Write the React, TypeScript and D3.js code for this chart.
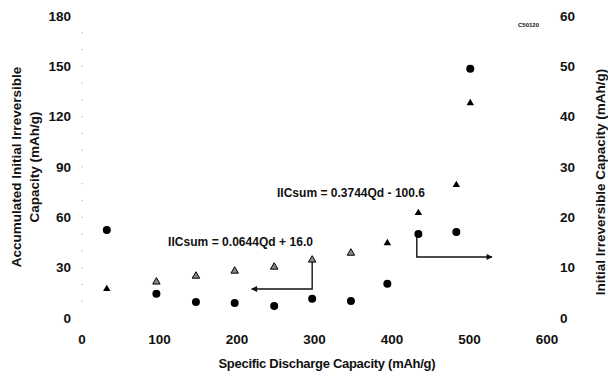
import * as d3 from "d3";
import React, { useEffect, useRef } from "react";

// data
const capacity = [32, 96, 147, 197, 248, 297, 347, 394, 434, 483, 501];
const accumulated = [17.3, 21.5, 25.0, 28.0, 30.4, 34.6, 38.7, 44.7, 62.6, 79.3, 128.1];
const initial = [17.5, 4.8, 3.2, 3.0, 2.4, 3.8, 3.4, 6.8, 16.7, 17.1, 49.5];

const xTicks = [0, 100, 200, 300, 400, 500, 600];
const leftTicks = [0, 30, 60, 90, 120, 150, 180];
const rightTicks = [0, 10, 20, 30, 40, 50, 60];

const fitLow = "IICsum = 0.0644Qd + 16.0";
const fitHigh = "IICsum = 0.3744Qd - 100.6";
// arrows, in data units of the left axis
const arrowLow = [[297, 34.6], [297, 17.3], [219, 17.3]];
const arrowHigh = [[432, 49.5], [432, 36.4], [529, 36.4]];

export default function App() {
  const svgRef = useRef(null);
  const W = 608;
  const H = 378;
  const font = "'Liberation Sans', Arial, Helvetica, sans-serif";

  useEffect(() => {
    const svg = d3.select(svgRef.current);
    svg.selectAll("*").remove();

    const x = d3.scaleLinear().domain([0, 600]).range([82, 547]);
    const yL = d3.scaleLinear().domain([0, 180]).range([318, 16]);
    const yR = d3.scaleLinear().domain([0, 60]).range([318, 16]);

    svg.append("defs")
      .append("marker")
      .attr("id", "head")
      .attr("viewBox", "0 0 10 10")
      .attr("refX", 9)
      .attr("refY", 5)
      .attr("markerWidth", 9)
      .attr("markerHeight", 6)
      .attr("markerUnits", "userSpaceOnUse")
      .attr("orient", "auto")
      .append("path")
      .attr("d", "M0,0 L10,5 L0,10 Z")
      .attr("fill", "#111");

    // faint minor ticks on the left axis (scan dots)
    svg.append("g")
      .selectAll("rect")
      .data(d3.range(10, 180, 10))
      .join("rect")
      .attr("x", x(0) - 0.5)
      .attr("y", (d) => yL(d) - 0.5)
      .attr("width", 1.2)
      .attr("height", 1)
      .attr("fill", "#aaa");

    const txt = svg.append("g")
      .attr("font-family", font)
      .attr("font-weight", "bold")
      .attr("fill", "#111");

    // left tick labels
    txt.selectAll(".yl")
      .data(leftTicks)
      .join("text")
      .attr("x", 71)
      .attr("y", (d) => yL(d))
      .attr("dy", "0.35em")
      .attr("text-anchor", "end")
      .attr("font-size", 13.5)
      .text((d) => d);

    // right tick labels
    txt.selectAll(".yr")
      .data(rightTicks)
      .join("text")
      .attr("x", 560)
      .attr("y", (d) => yR(d))
      .attr("dy", "0.35em")
      .attr("font-size", 13.5)
      .text((d) => d);

    // x tick labels
    txt.selectAll(".xt")
      .data(xTicks)
      .join("text")
      .attr("x", (d) => x(d))
      .attr("y", 339.5)
      .attr("dy", "0.35em")
      .attr("text-anchor", "middle")
      .attr("font-size", 13.5)
      .text((d) => d);

    // axis titles
    txt.append("text")
      .attr("x", 327)
      .attr("y", 363)
      .attr("dy", "0.35em")
      .attr("text-anchor", "middle")
      .attr("font-size", 13)
      .attr("textLength", 217)
      .text("Specific Discharge Capacity (mAh/g)");

    txt.append("text")
      .attr("transform", "translate(16,167) rotate(-90)")
      .attr("dy", "0.35em")
      .attr("text-anchor", "middle")
      .attr("font-size", 13.5)
      .text("Accumulated Initial Irreversible");
    txt.append("text")
      .attr("transform", "translate(34,167) rotate(-90)")
      .attr("dy", "0.35em")
      .attr("text-anchor", "middle")
      .attr("font-size", 13.5)
      .text("Capacity (mAh/g)");

    txt.append("text")
      .attr("transform", "translate(600,182) rotate(-90)")
      .attr("dy", "0.35em")
      .attr("text-anchor", "middle")
      .attr("font-size", 13.5)
      .text("Initial Irreversible Capacity (mAh/g)");

    txt.append("text")
      .attr("x", 518)
      .attr("y", 25)
      .attr("dy", "0.35em")
      .attr("font-size", 6)
      .text("C50120");

    // fit equations
    txt.append("text")
      .attr("x", x(111))
      .attr("y", yL(45.3))
      .attr("dy", "0.35em")
      .attr("font-size", 12)
      .attr("textLength", 145)
      .text(fitLow);
    txt.append("text")
      .attr("x", x(251.6))
      .attr("y", yL(74.5))
      .attr("dy", "0.35em")
      .attr("font-size", 12)
      .attr("textLength", 148)
      .text(fitHigh);

    // arrows
    const line = d3.line()
      .x((d) => x(d[0]))
      .y((d) => yL(d[1]));
    [arrowLow, arrowHigh].forEach((pts) => {
      svg.append("path")
        .attr("d", line(pts))
        .attr("fill", "none")
        .attr("stroke", "#111")
        .attr("stroke-width", 1.4)
        .attr("marker-end", "url(#head)");
    });

    // initial irreversible capacity (circles, right axis)
    svg.append("g")
      .selectAll("circle")
      .data(initial)
      .join("circle")
      .attr("cx", (d, i) => x(capacity[i]))
      .attr("cy", (d) => yR(d))
      .attr("r", 4)
      .attr("fill", "#000");

    // accumulated (triangles, left axis)
    const tri = d3.symbol(d3.symbolTriangle, 24);
    svg.append("g")
      .selectAll("path")
      .data(accumulated)
      .join("path")
      .attr("d", tri)
      .attr("transform", (d, i) => `translate(${x(capacity[i])},${yL(d)})`)
      .attr("fill", (d, i) => (i > 0 && i < 7 ? "#888" : "#000"))
      .attr("stroke", "#000")
      .attr("stroke-width", (d, i) => (i > 0 && i < 7 ? 1 : 0));
  }, []);

  return (
    <svg
      ref={svgRef}
      width={W}
      height={H}
      style={{ position: "absolute", left: 0, top: 0, background: "#fff" }}
    ></svg>
  );
}
